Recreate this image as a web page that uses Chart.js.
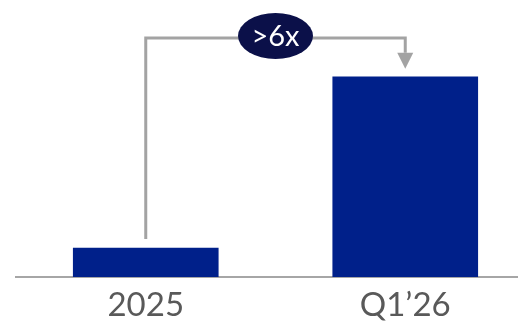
<!DOCTYPE html>
<html>
<head>
<meta charset="utf-8">
<script src="https://cdn.jsdelivr.net/npm/chart.js@4"></script>
<style>
    html, body { margin: 0; padding: 0; background: #fff; overflow: hidden; }
    #wrap { width: 535px; height: 321px; }
</style>
</head>
<body>
<div id="wrap"><canvas id="myChart"></canvas></div>
<script>
const categories = ['2025', 'Q1\u201926'];
const values = [1, 6.9];
const growthLabel = '>6x';

// connector arrow + bubble between the two bars
const growthArrow = {
    id: 'growthArrow',
    afterDatasetsDraw(chart) {
        const ctx = chart.ctx;
        const bars = chart.getDatasetMeta(0).data;
        const a = bars[0], b = bars[1];
        const lineY = 38;
        ctx.save();
        ctx.strokeStyle = '#a3a3a3';
        ctx.fillStyle = '#a3a3a3';
        ctx.lineWidth = 3;
        ctx.beginPath();
        ctx.moveTo(a.x, a.y - 9);
        ctx.lineTo(a.x, lineY);
        ctx.lineTo(b.x, lineY);
        ctx.lineTo(b.x, b.y - 24);
        ctx.stroke();
        ctx.beginPath();
        ctx.moveTo(b.x - 8, b.y - 24);
        ctx.lineTo(b.x + 8, b.y - 24);
        ctx.lineTo(b.x, b.y - 8);
        ctx.closePath();
        ctx.fill();

        const cx = (a.x + b.x) / 2;
        ctx.fillStyle = '#0b1049';
        ctx.beginPath();
        ctx.ellipse(cx, 36, 37.5, 23, 0, 0, Math.PI * 2);
        ctx.fill();
        ctx.fillStyle = '#ffffff';
        ctx.font = '29px Lato';
        ctx.textAlign = 'center';
        ctx.textBaseline = 'middle';
        ctx.fillText(growthLabel, cx, 37);
        ctx.restore();
    }
};

const config = {
    type: 'bar',
    data: {
        labels: categories,
        datasets: [{
            data: values,
            backgroundColor: '#00208a',
            barThickness: 145
        }]
    },
    options: {
        responsive: true,
        maintainAspectRatio: false,
        animation: false,
        layout: { padding: { left: 16, right: 0, top: 0, bottom: 0 } },
        plugins: {
            legend: { display: false },
            tooltip: { enabled: false }
        },
        scales: {
            x: {
                grid: { display: false, drawTicks: false },
                border: { display: true, color: '#a6a6a6', width: 2 },
                ticks: {
                    color: '#595959',
                    padding: 9,
                    font: { family: 'Lato', size: 33 }
                },
                afterFit(scale) { scale.height = 44; }
            },
            y: {
                display: false,
                min: 0,
                max: 9.55
            }
        }
    },
    plugins: [growthArrow]
};

const myChart = new Chart(document.getElementById('myChart'), config);
</script>
</body>
</html>
